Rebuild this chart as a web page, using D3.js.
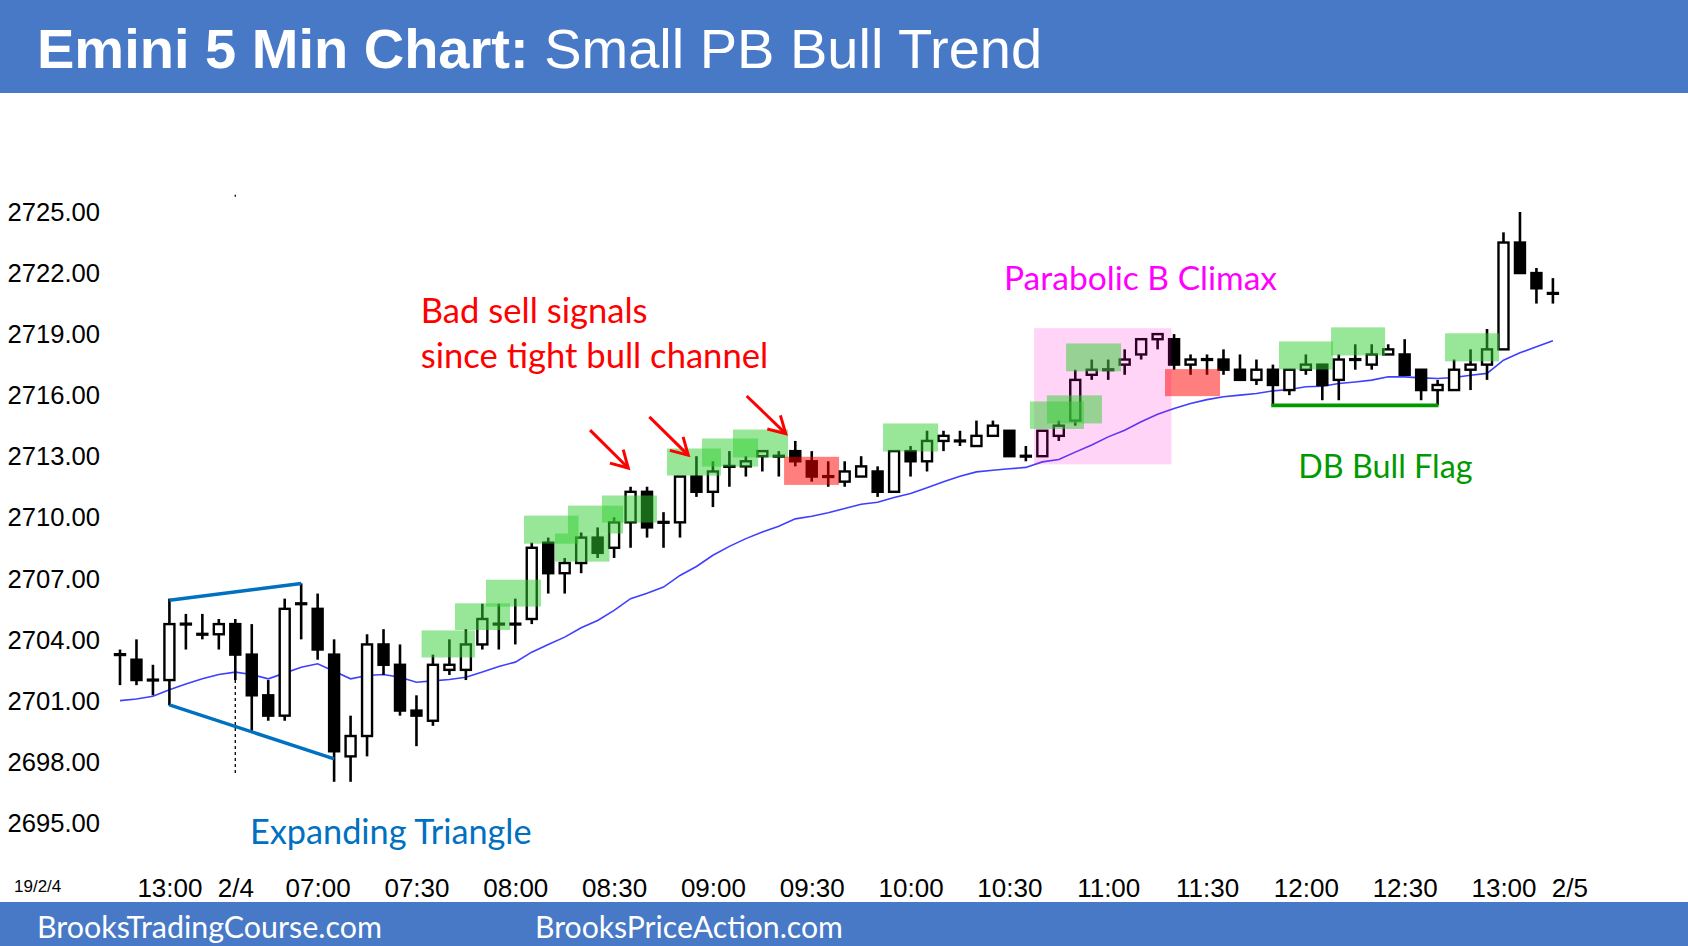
<!DOCTYPE html>
<html><head><meta charset="utf-8">
<script src="https://cdn.jsdelivr.net/npm/d3@7"></script>
<style>html,body{margin:0;padding:0;background:#fff;overflow:hidden}</style>
</head><body><svg id="c" width="1688" height="946"></svg>
<script>
// ---------- DATA ----------
const opens = [2703.25,2703,2702,2702,2704.75,2704.25,2704.25,2704.75,2703.25,2701.25,
 2700.25,2705.75,2705.5,2703.25,2698.25,2699.25,2703.75,2702.75,2700.5,2700,
 2702.5,2702.5,2703.75,2704.75,2704.75,2705,2708.75,2707.25,2707.75,2709,
 2708.5,2709.75,2711.25,2709.75,2709.75,2712,2711.25,2712.5,2712.5,2713,
 2713,2713.25,2712.75,2712,2711.75,2712,2712.25,2711.25,2713.25,2712.75,
 2713.75,2713.75,2713.5,2714,2714.25,2713,2713,2714,2714.75,2717,
 2717.25,2717.5,2718,2718.75,2718.75,2717.5,2717.75,2717.75,2717.25,2716.75,
 2717.25,2716.25,2717.25,2717.5,2716.75,2717.75,2717.5,2718,2718,2717.25,
 2716.25,2716.25,2717.25,2717.5,2718.25,2723.5,2722,2721];
const highs = [2703.5,2704,2702.75,2706,2705.25,2705.25,2705,2705,2704.75,2702,
 2706,2706.75,2706.25,2704,2700.25,2704.25,2704.5,2703.75,2701.25,2703.25,
 2704,2704.5,2705.75,2705.75,2706,2708.75,2709,2708,2709.25,2709.5,
 2710,2711.5,2711.5,2710.25,2712,2713,2712.75,2713.25,2713,2713.25,
 2713.25,2713.75,2713.25,2712.75,2712.75,2713,2712.5,2713.25,2713.5,2714.25,
 2714.25,2714.25,2714.75,2714.75,2714.25,2713.5,2714.25,2714.75,2717.25,2717.75,
 2717.75,2718.25,2718.75,2719,2719,2718,2718,2718.25,2718,2717.75,
 2717.5,2717.25,2718,2717.5,2718,2718.5,2718.5,2718.5,2718.75,2717.25,
 2716.75,2717.75,2718.25,2719.25,2724,2725,2722.25,2721.75];
const lows = [2701.75,2701.75,2701.25,2700.75,2703.5,2704,2703.5,2702,2699.5,2700,
 2700,2704,2703,2697,2697,2698.25,2702.25,2700.25,2698.75,2699.75,
 2702.25,2702,2703.5,2703.5,2703.75,2704.75,2706.25,2706.25,2707.25,2708,
 2708,2708.5,2709,2708.5,2709,2711,2710.5,2711.5,2712,2712.25,
 2712,2712.5,2711.75,2711.5,2711.5,2712,2711,2711.25,2712,2712.25,
 2713.25,2713.5,2713.5,2714,2713,2712.75,2713,2713.75,2714.5,2716.75,
 2716.75,2717,2717.75,2718.25,2717.25,2717,2717,2717,2716.75,2716.5,
 2715.5,2716,2717,2715.75,2715.75,2717.25,2717.25,2718,2717,2715.75,
 2715.5,2716.25,2716.25,2716.75,2718.25,2722,2720.5,2720.5];
const closes = [2703.25,2702,2702,2704.75,2704.75,2704.25,2704.75,2703.25,2701.25,2700.25,
 2705.5,2705.75,2703.5,2698.5,2699.25,2703.75,2702.75,2700.5,2700.25,2702.75,
 2702.75,2703.75,2705,2704.75,2704.75,2708.5,2707.25,2707.75,2709,2708.25,
 2709.75,2711.25,2709.5,2709.75,2712,2711.25,2712.25,2712.5,2712.75,2713.25,
 2713,2712.75,2712,2712,2712.25,2712.5,2711.25,2713.25,2712.75,2713.75,
 2714,2713.75,2714,2714.5,2713,2713,2714.25,2714.5,2716.75,2717.25,
 2717.25,2717.75,2718.75,2719,2717.5,2717.75,2717.75,2717.25,2716.75,2717.25,
 2716.5,2717.25,2717.5,2716.5,2717.75,2717.75,2718,2718.25,2717,2716.25,
 2716.5,2717.25,2717.5,2718.25,2723.5,2722,2721.25,2721];
const ema = [2700.99,2701.07,2701.2,2701.52,2701.81,2702.06,2702.27,2702.39,2702.27,2702.06,
 2702.34,2702.63,2702.8,2702.43,2702.06,2702.22,2702.27,2702.14,2701.89,2701.96,
 2702.03,2702.14,2702.39,2702.67,2702.88,2703.37,2703.75,2704.11,2704.57,2704.93,
 2705.42,2706.0,2706.27,2706.57,2707.14,2707.58,2708.13,2708.57,2708.95,2709.28,
 2709.56,2709.92,2710.05,2710.22,2710.43,2710.64,2710.74,2710.97,2711.17,2711.45,
 2711.74,2712.02,2712.23,2712.31,2712.38,2712.45,2712.72,2712.84,2713.2,2713.55,
 2713.95,2714.28,2714.69,2715.06,2715.34,2715.59,2715.78,2715.92,2716.0,2716.08,
 2716.21,2716.28,2716.41,2716.44,2716.57,2716.65,2716.74,2716.9,2716.9,2716.85,
 2716.82,2716.87,2716.98,2717.07,2717.72,2718.08,2718.38,2718.67];
const priceTicks = [2695,2698,2701,2704,2707,2710,2713,2716,2719,2722,2725];
const timeTickBars = [3,7,12,18,24,30,36,42,48,54,60,66,72,78,84,88];
const timeTickLabels = ["13:00","2/4","07:00","07:30","08:00","08:30","09:00","09:30",
 "10:00","10:30","11:00","11:30","12:00","12:30","13:00","2/5"];
// annotation regions: [startBar, endBar, topPrice, bottomPrice]
const greenZones = [[18.31,21.55,2704.44,2703.11],[20.34,23.68,2705.77,2704.46],
 [22.22,25.56,2706.93,2705.61],[24.53,27.84,2710.08,2708.70],[26.41,29.72,2709.20,2707.82],
 [27.20,30.54,2710.57,2709.20],[29.26,32.60,2711.07,2709.74],[33.21,36.49,2713.38,2712.05],
 [35.34,38.74,2713.87,2712.49],[37.22,40.56,2714.31,2712.94],[46.33,49.67,2714.61,2713.23],
 [55.25,58.53,2715.69,2714.34],[56.28,59.62,2715.99,2714.61],[57.44,60.78,2718.54,2717.17],
 [70.37,73.65,2718.64,2717.26],[73.53,76.81,2719.33,2717.95],[80.45,83.73,2719.04,2717.66]];
const redZones = [[40.32,43.66,2712.97,2711.59],[63.45,66.79,2717.28,2715.95]];
const pinkZones = [[55.50,63.84,2719.29,2712.60]];
// arrows: [tailBar, tailPrice, tipBar, tipPrice]
const arrows = [[28.54,2714.28,30.86,2712.42],[32.14,2714.93,34.50,2713.05],[38.05,2715.96,40.42,2714.11]];
// triangle lines [bar, price, bar, price]
const triangleLines = [[3,2705.92,11,2706.74],[3,2700.78,13,2698.13]];
const dbLine = [69.9,80.05,2715.5];
const sessionBar = 7;

// ---------- SETUP ----------
const W = 1688, H = 946;
const svg = d3.select("#c");
const x = d3.scaleLinear().domain([0, 87]).range([120, 1552.9]);
const y = d3.scaleLinear().domain([2695, 2725]).range([822.5, 212]);
const annFont = "Lato, 'Open Sans', sans-serif";

function fit(sel, target) {
  sel.style("font-size", "40px");
  const m = sel.node().getComputedTextLength();
  const fs = 40 * target / m;
  sel.style("font-size", fs + "px");
  return fs;
}

// header / footer
svg.append("rect").attr("x",0).attr("y",0).attr("width",W).attr("height",93).attr("fill","#4779c7");
svg.append("rect").attr("x",0).attr("y",902).attr("width",W).attr("height",H-902).attr("fill","#4779c7");
const title = svg.append("text").attr("x",37).attr("y",68)
  .style("font-family","'Liberation Sans', Arial, sans-serif").style("font-size","56px").attr("fill","#fff");
title.append("tspan").style("font-weight","bold").text("Emini 5 Min Chart:");
title.append("tspan").text(" Small PB Bull Trend");

const f1 = svg.append("text").attr("x",37).attr("y",938).attr("fill","#fff")
  .style("font-family",annFont).text("BrooksTradingCourse.com");
fit(f1, 345);
const f2 = svg.append("text").attr("x",535).attr("y",938).attr("fill","#fff")
  .style("font-family",annFont).text("BrooksPriceAction.com");
fit(f2, 308);

// y axis
const yAxis = svg.append("g").attr("transform","translate(100,0)")
  .call(d3.axisLeft(y).tickValues(priceTicks).tickSize(0).tickPadding(0).tickFormat(d3.format(".2f")));
yAxis.select(".domain").remove();
yAxis.selectAll("text").style("font-family","'Liberation Sans', Arial, sans-serif")
  .style("font-size","25.6px").attr("fill","#000").attr("dy","0.34em");

// x axis
const xAxis = svg.append("g").attr("transform","translate(0,878)")
  .call(d3.axisBottom(x).tickValues(timeTickBars).tickSize(0).tickPadding(0)
    .tickFormat((d,i)=>timeTickLabels[i]));
xAxis.select(".domain").remove();
xAxis.selectAll("text").style("font-family","'Liberation Sans', Arial, sans-serif")
  .style("font-size","26px").attr("fill","#000").attr("dy","0.72em");
svg.append("text").attr("x",14).attr("y",892).style("font-family","'Liberation Sans', Arial, sans-serif")
  .style("font-size","17px").attr("fill","#000").text("19/2/4");

// session separator
svg.append("line").attr("x1",x(sessionBar)).attr("x2",x(sessionBar))
  .attr("y1",y(lows[sessionBar])).attr("y2",y(2697.4))
  .attr("stroke","#000").attr("stroke-width",1.3).attr("stroke-dasharray","3,3");
svg.append("line").attr("x1",x(sessionBar)).attr("x2",x(sessionBar))
  .attr("y1",y(2725.85)).attr("y2",y(2725.75)).attr("stroke","#000").attr("stroke-width",1.3);

// EMA
svg.append("path").datum(ema)
  .attr("d", d3.line().x((d,i)=>x(i)).y(d=>y(d)))
  .attr("fill","none").attr("stroke","#3f3fff").attr("stroke-width",1.6);

// candles
const idx = d3.range(opens.length);
const cg = svg.append("g");
cg.selectAll("line.wick").data(idx).join("line").attr("class","wick")
  .attr("x1",i=>x(i)).attr("x2",i=>x(i)).attr("y1",i=>y(highs[i])).attr("y2",i=>y(lows[i]))
  .attr("stroke","#000").attr("stroke-width",2.6);
cg.selectAll("rect.body").data(idx).join("rect").attr("class","body")
  .attr("x",i=>x(i)-5).attr("width",10)
  .attr("y",i=>{const h=Math.abs(y(opens[i])-y(closes[i])); return y(Math.max(opens[i],closes[i])) - (h<0.8?0.4:0);})
  .attr("height",i=>Math.max(0.8, Math.abs(y(opens[i])-y(closes[i]))))
  .attr("fill",i=>closes[i]>opens[i]?"#fff":"#000")
  .attr("stroke","#000").attr("stroke-width",2.4);

// zones
function zones(data, color, op) {
  svg.append("g").selectAll("rect").data(data).join("rect")
    .attr("x",d=>x(d[0])).attr("width",d=>x(d[1])-x(d[0]))
    .attr("y",d=>y(d[2])).attr("height",d=>y(d[3])-y(d[2]))
    .attr("fill",color).attr("fill-opacity",op);
}
zones(pinkZones, "#ff00cc", 0.17);
zones(greenZones, "#32cd32", 0.5);
zones(redZones, "#ff0000", 0.5);

// triangle
svg.append("g").selectAll("line").data(triangleLines).join("line")
  .attr("x1",d=>x(d[0])).attr("y1",d=>y(d[1])).attr("x2",d=>x(d[2])).attr("y2",d=>y(d[3]))
  .attr("stroke","#0070c0").attr("stroke-width",3.5);
// DB line
svg.append("line").attr("x1",x(dbLine[0])).attr("x2",x(dbLine[1]))
  .attr("y1",y(dbLine[2])).attr("y2",y(dbLine[2])).attr("stroke","#009a00").attr("stroke-width",3.8);

// arrows
const ag = svg.append("g").attr("stroke","#ff0000").attr("stroke-width",3).attr("fill","none")
  .attr("stroke-linecap","butt");
arrows.forEach(a=>{
  const x1=x(a[0]), y1=y(a[1]), x2=x(a[2]), y2=y(a[3]);
  ag.append("line").attr("x1",x1).attr("y1",y1).attr("x2",x2).attr("y2",y2);
  const ang = Math.atan2(y1-y2, x1-x2), L=19, s=0.52;
  const p1=[x2+L*Math.cos(ang+s), y2+L*Math.sin(ang+s)], p2=[x2+L*Math.cos(ang-s), y2+L*Math.sin(ang-s)];
  ag.append("path").attr("d",`M${p1[0]},${p1[1]}L${x2},${y2}L${p2[0]},${p2[1]}`).attr("stroke-linejoin","miter");
});

// annotation texts
function ann(txt, b, p, color) {
  return svg.append("text").attr("x",x(b)).attr("y",y(p)).attr("fill",color)
    .style("font-family",annFont).text(txt);
}
const r1 = ann("Bad sell signals", 18.26, 2719.53, "#ff0000");
const r2 = ann("since tight bull channel", 18.26, 2717.31, "#ff0000");
const fsR = fit(r2, 347.6); r1.style("font-size", fsR+"px");
fit(ann("Parabolic B Climax", 53.67, 2721.16, "#ff00ff"), 273.3);
fit(ann("DB Bull Flag", 71.54, 2711.95, "#009a00"), 174.3);
fit(ann("Expanding Triangle", 7.89, 2693.95, "#0070c0"), 281.7);
</script>
</body></html>
